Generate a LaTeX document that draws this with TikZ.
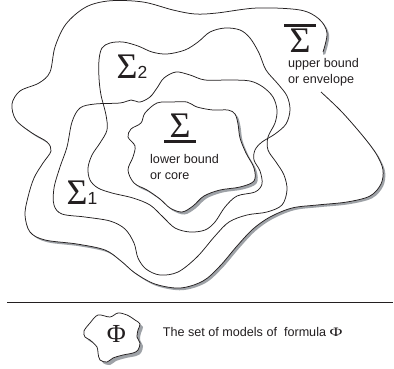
\documentclass[tikz,border=0pt]{standalone}
\usepackage{fontspec}
\usepackage{graphicx}
\setmainfont{Liberation Sans}
\newfontfamily\grserif{Liberation Serif}
\newcommand\digitfont{\rmfamily\fontsize{17.5}{17.5}\selectfont}
\definecolor{shadowgray}{RGB}{158,162,167}
\definecolor{ink}{RGB}{35,31,32}
\begin{document}
\begin{tikzpicture}[x=1pt,y=-1pt,
  curve/.style={line width=0.75pt, draw=ink},
  lbl/.style={inner sep=0pt, text=ink, font=\fontsize{12.6}{15.8}\selectfont, align=left},
  sigma/.style={inner sep=0pt, text=ink, font=\grserif\fontsize{36}{36}\selectfont},
  envpath/.style={insert path={plot[smooth, tension=0.55] coordinates {
    (321,92) (340,110) (357,129) (370,145) (378,157) (383,170) (381,184) (370,196)
    (347,202) (317,205) (292,208) (270,217) (253,229) (237,246) (220,266) (203,281)
    (180,288) (155,284) (135,273) (121,261) (105,250) (77,244) (45,240) (30,232)
    (25,215) (28,197) (34,178) (43,163) (51,151) (47,142) (32,133) (16,120) (12,104)
    (20,91) (39,83) (50,72) (55,47) (66,24) (86,7) (110,0.8) (143,2) (173,10) (195,14)
    (217,13) (257,8) (300,10) (319,19) (327,33) (323,52)}}},
  sigonepath/.style={insert path={plot[smooth cycle, tension=0.55] coordinates {
    (140,102) (150,97) (157,88) (164,78) (176,72) (190,75) (205,80) (230,80) (250,81)
    (263,87) (273,97) (277,110) (275,123) (268,137) (268,150) (276,162) (284,175)
    (287,190) (282,205) (267,212) (247,215) (229,222) (215,236) (197,257) (178,272)
    (160,275) (146,269) (138,258) (134,243) (125,229) (110,221) (85,217) (62,214)
    (54,205) (54,188) (60,167) (67,147) (72,122) (80,108) (95,104) (120,103) (131,100)}}},
  sigtwopath/.style={insert path={plot[smooth cycle, tension=0.55] coordinates {
    (101,95) (106,115) (107,130) (100,143) (92,155) (88,168) (90,180) (98,188) (112,193)
    (133,198) (150,205) (163,217) (175,228) (190,232) (205,230) (215,222) (225,207)
    (237,196) (255,192) (262,184) (260,171) (254,160) (255,150) (262,142) (275,134)
    (286,124) (290,110) (287,96) (278,84) (266,70) (259,53) (250,38) (240,30) (225,28)
    (210,32) (198,42) (185,50) (167,54) (152,52) (138,46) (123,42) (110,43) (102,48)
    (99,60) (99,78)}}},
  corepath/.style={insert path={plot[smooth cycle, tension=0.55] coordinates {
    (157,103) (172,102) (187,102) (197,107) (213,110) (228,110) (235,114) (238,124)
    (240,138) (246,153) (254,168) (254,181) (240,187) (220,190) (204,196) (193,206)
    (182,212) (170,208) (160,199) (147,190) (134,183) (128,170) (133,157) (135,146)
    (128,137) (131,129) (141,123) (145,113)}}},
  blobpath/.style={insert path={plot[smooth cycle, tension=0.55] coordinates {
    (84,331) (90,323) (98,315) (110,317) (118,313) (127,315) (135,320) (140,324)
    (138,330) (137,337) (140,343) (138,350) (133,353) (123,355) (113,358) (107,362)
    (100,360) (98,353) (97,347) (90,340) (85,337)}}}
]
\useasboundingbox (0,0) rectangle (394,368);
\fill[white] (0,0) rectangle (394,368);

% envelope (upper bound) with drop shadow, open at the label
\fill[shadowgray, shift={(2.2,2.2)}, envpath] -- (250,70) -- cycle;
\fill[white, envpath] -- cycle;
\draw[curve, envpath];

% Sigma_1 and Sigma_2
\draw[curve, sigonepath];
\draw[curve, sigtwopath];

% core (lower bound) with drop shadow
\fill[shadowgray, shift={(2.5,2.5)}, corepath];
\filldraw[fill=white, curve, corepath];

% labels
\node[sigma, anchor=base] (sigU) at (300,52)
  {\vbox{\hrule height 2.6pt width 32pt\kern 1.6pt\hbox to 32pt{\hss Σ\hss}}};
\node[lbl, anchor=base west] (upper) at (288,83) {upper bound\\or envelope};

\node[sigma, anchor=base] (sigL) at (180,137)
  {\vtop{\hbox to 32pt{\hss Σ\hss}\kern 3pt\hrule height 2.6pt width 32pt}};
\node[lbl, anchor=base west] (lower) at (150,179.5) {lower bound\\or core};

\node[sigma, anchor=base west] (sig2) at (116.5,78) {Σ{\digitfont 2}};
\node[sigma, anchor=base west] (sig1) at (66.5,204.5) {Σ{\digitfont 1}};

% separator
\coordinate (ruleL) at (7,302.5);
\coordinate (ruleR) at (393,302.5);
\draw[line width=0.9pt, draw=ink] (ruleL) -- (ruleR);

% legend blob
\fill[shadowgray, shift={(3,3)}, blobpath];
\filldraw[fill=white, curve, blobpath];
\node[inner sep=0pt, text=ink, font=\grserif\fontsize{26}{26}\selectfont] (phi) at (116.5,333.5) {Φ};
\node[lbl, anchor=base west] (legend) at (162.7,336.5)
  {The set of models of\ \ formula {\grserif\fontsize{13}{13}\selectfont\scalebox{1.35}[1]{Φ}}};
\end{tikzpicture}
\end{document}
